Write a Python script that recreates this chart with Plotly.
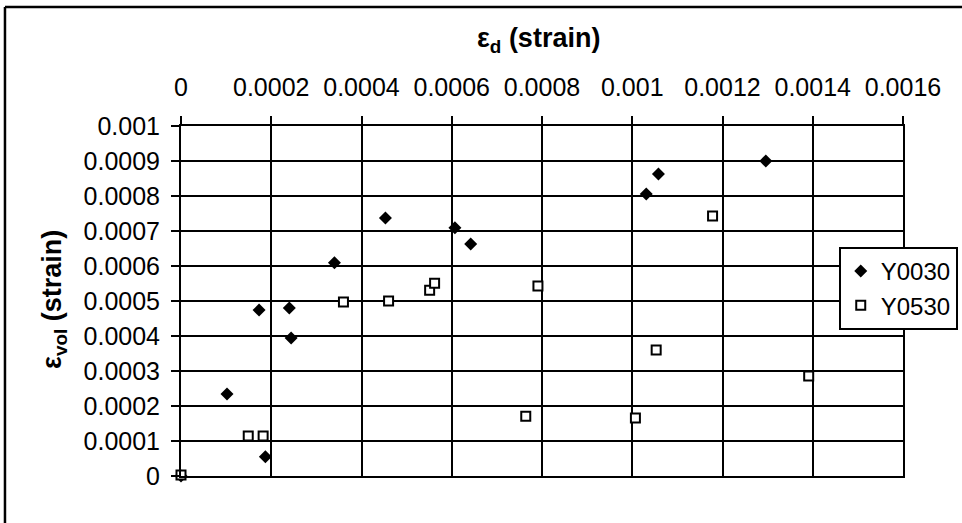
import plotly.graph_objects as go

# ---- data ----
y0030_x = [0.0, 0.000102, 0.000173, 0.000187, 0.000240, 0.000244, 0.000340,
           0.000453, 0.000607, 0.000642, 0.001031, 0.001058, 0.001296]
y0030_y = [0.0, 0.000234, 0.000474, 0.000055, 0.000480, 0.000394, 0.000609,
           0.000737, 0.000709, 0.000663, 0.000806, 0.000863, 0.000900]

y0530_x = [0.0, 0.000149, 0.000182, 0.000360, 0.000460, 0.000551, 0.000562,
           0.000764, 0.000791, 0.001007, 0.001053, 0.001178, 0.001391]
y0530_y = [0.000003, 0.000114, 0.000114, 0.000497, 0.000500, 0.000531, 0.000551,
           0.000171, 0.000543, 0.000166, 0.000360, 0.000743, 0.000286]

x_tickvals = [0, 0.0002, 0.0004, 0.0006, 0.0008, 0.001, 0.0012, 0.0014, 0.0016]
x_ticktext = ["0", "0.0002", "0.0004", "0.0006", "0.0008", "0.001", "0.0012", "0.0014", "0.0016"]
y_tickvals = [0, 0.0001, 0.0002, 0.0003, 0.0004, 0.0005, 0.0006, 0.0007, 0.0008, 0.0009, 0.001]
y_ticktext = ["0", "0.0001", "0.0002", "0.0003", "0.0004", "0.0005", "0.0006", "0.0007",
              "0.0008", "0.0009", "0.001"]

FONT = "Liberation Sans, Arial, sans-serif"

fig = go.Figure()
fig.add_trace(go.Scatter(
    x=y0030_x, y=y0030_y, mode="markers", name="Y0030",
    marker=dict(symbol="diamond", size=10, color="black", line=dict(width=0)),
    cliponaxis=False,
))
fig.add_trace(go.Scatter(
    x=y0530_x, y=y0530_y, mode="markers", name="Y0530",
    marker=dict(symbol="square", size=9, color="white", line=dict(width=2, color="black")),
    cliponaxis=False,
))

fig.update_layout(
    width=962, height=523,
    margin=dict(l=181, r=59, t=126, b=47, autoexpand=False),
    paper_bgcolor="white", plot_bgcolor="white",
    font=dict(family=FONT, size=25, color="black"),
    showlegend=True,
    legend=dict(
        x=0.911, y=0.6543, xanchor="left", yanchor="top",
        bgcolor="white", bordercolor="black", borderwidth=2,
        itemwidth=30,
        font=dict(family=FONT, size=24, color="black"),
    ),
    xaxis=dict(
        side="top", range=[0, 0.0016],
        tickvals=x_tickvals, ticktext=x_ticktext,
        ticks="outside", ticklen=8, tickwidth=2, tickcolor="black",
        ticklabelstandoff=10,
        showgrid=True, gridcolor="black", gridwidth=1.5,
        showline=True, linecolor="black", linewidth=2, mirror=True,
        zeroline=False,
        tickfont=dict(family=FONT, size=25, color="black"),
    ),
    yaxis=dict(
        range=[0, 0.001],
        tickvals=y_tickvals, ticktext=y_ticktext,
        ticks="outside", ticklen=8, tickwidth=2, tickcolor="black",
        ticklabelstandoff=6,
        showgrid=True, gridcolor="black", gridwidth=1.5,
        showline=True, linecolor="black", linewidth=2, mirror=True,
        zeroline=False,
        tickfont=dict(family=FONT, size=25, color="black"),
    ),
    annotations=[
        dict(text="<b>ε<sub>d</sub> (strain)</b>", xref="paper", yref="paper",
             x=0.4945, y=1.2457, xanchor="center", yanchor="middle", showarrow=False,
             font=dict(family=FONT, size=27, color="black")),
        dict(text="<b>ε<sub>vol</sub> (strain)</b>", xref="paper", yref="paper",
             x=-0.1759, y=0.503, xanchor="center", yanchor="middle", showarrow=False,
             textangle=-90, font=dict(family=FONT, size=27, color="black")),
    ],
    shapes=[
        dict(type="line", xref="paper", yref="paper", x0=-0.2438, x1=1.09, y0=1.34, y1=1.34,
             line=dict(color="black", width=2.5)),
        dict(type="line", xref="paper", yref="paper", x0=-0.2438, x1=-0.2438, y0=1.34, y1=-0.16,
             line=dict(color="black", width=2.5)),
    ],
)

fig.write_html("out.html", config={"displayModeBar": False},
               post_script="document.body.style.margin='0';")
